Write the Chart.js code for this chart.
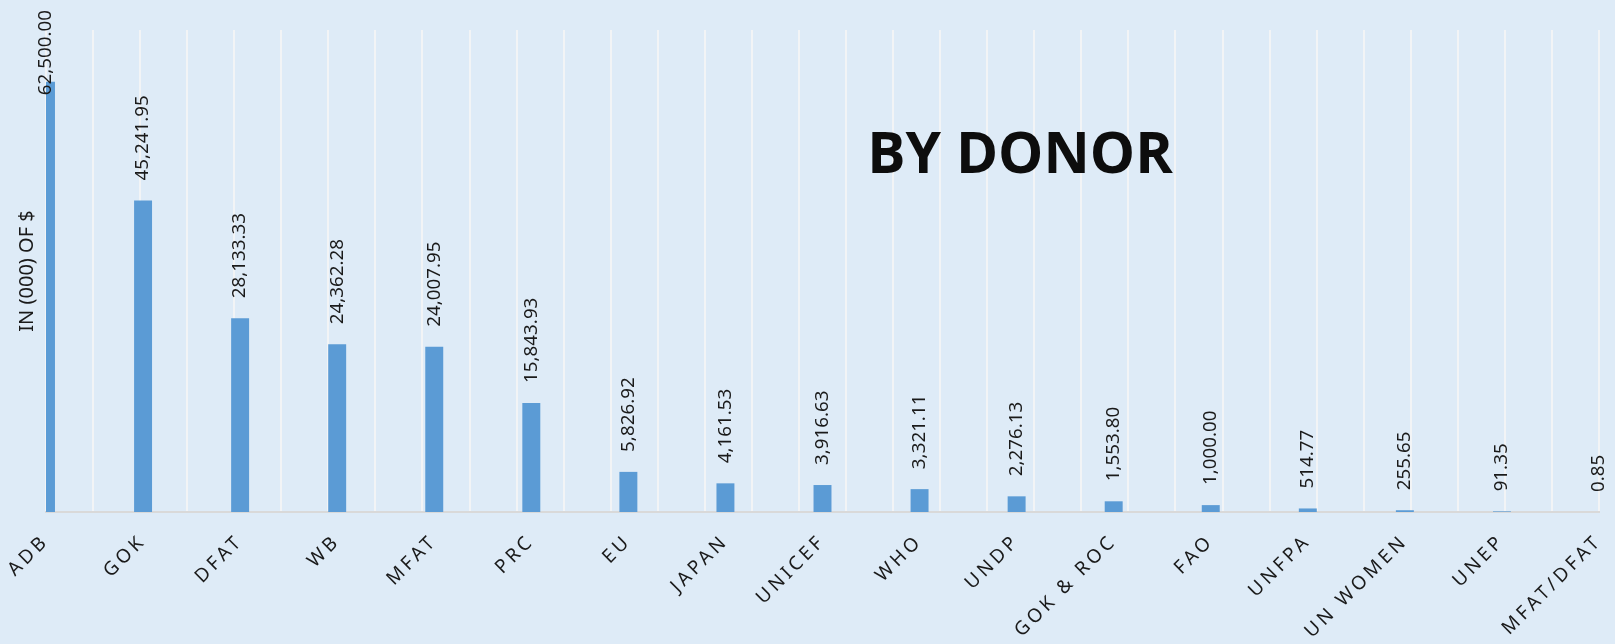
<!DOCTYPE html>
<html><head><meta charset="utf-8">
<script src="https://cdn.jsdelivr.net/npm/chart.js@4"></script>
<style>html,body{margin:0;padding:0;background:#DEEBF7;overflow:hidden;} canvas{display:block;}</style>
</head><body>
<canvas id="c" width="1615" height="644"></canvas>
<script>
const donors = ['ADB','GOK','DFAT','WB','MFAT','PRC','EU','JAPAN','UNICEF','WHO','UNDP','GOK & ROC','FAO','UNFPA','UN WOMEN','UNEP','MFAT/DFAT'];
const amounts = [62500.00,45241.95,28133.33,24362.28,24007.95,15843.93,5826.92,4161.53,3916.63,3321.11,2276.13,1553.80,1000.00,514.77,255.65,91.35,0.85];
const yAxisTitle = 'IN (000) OF $';
const chartTitle = 'BY DONOR';

const fmt = v => v.toLocaleString('en-US',{minimumFractionDigits:2,maximumFractionDigits:2});

const spacingPlugin = {
  id:'spacing',
  afterLayout(chart){
    const s = chart.scales.x;
    if (!s._wrapped){
      const orig = s.drawLabels.bind(s);
      s._computeLabelArea = function(){ return undefined; };
      s.drawLabels = function(area){
        const ctx = this.ctx; const prev = ctx.letterSpacing;
        ctx.letterSpacing = '3.6px'; orig(area); ctx.letterSpacing = prev;
      };
      s._wrapped = true;
    }
  }
};
const labelPlugin = {
  id:'valueLabels',
  afterDatasetsDraw(chart){
    const ctx = chart.ctx; const meta = chart.getDatasetMeta(0);
    ctx.save();
    ctx.font = '18.8px "Noto Sans"'; ctx.fillStyle = '#1a1a1a';
    ctx.textAlign = 'left'; ctx.textBaseline = 'middle';
    meta.data.forEach((bar,i)=>{
      const t = fmt(amounts[i]); const w = ctx.measureText(t).width;
      let b = bar.y - 20; if (b - w < 10) b = 10 + w;
      ctx.save(); ctx.translate(bar.x, b); ctx.rotate(-Math.PI/2); ctx.fillText(t,0,0); ctx.restore();
    });
    ctx.restore();
  },
  afterDraw(chart){
    const ctx = chart.ctx; ctx.save();
    ctx.font = 'bold 57px "Open Sans"'; ctx.fillStyle = '#0d0d0d';
    ctx.textAlign = 'center'; ctx.textBaseline = 'middle';
    ctx.fillText(chartTitle, 1020, 157);
    ctx.restore();
  }
};

new Chart(document.getElementById('c'), {
  type:'bar',
  data:{ labels: donors, datasets:[{ data: amounts, backgroundColor:'#5B9BD5', barPercentage:0.185, categoryPercentage:1 }]},
  options:{
    responsive:false, animation:false, devicePixelRatio:1,
    layout:{ padding:{ top:30, left:11, right:16, bottom:10 } },
    plugins:{ legend:{display:false}, tooltip:{enabled:false} },
    scales:{
      x:{ type:'category', offset:false, grid:{display:false, drawTicks:false},
          border:{display:true, color:'#D9D9D9', width:2},
          afterFit(s){ s.paddingLeft = 0; s.paddingRight = 0; s.height = 122; },
          ticks:{ autoSkip:false, minRotation:45, maxRotation:45, padding:18, color:'#1a1a1a', font:{family:'Noto Sans', size:19} } },
      x2:{ type:'linear', position:'bottom', min:0, max:16, ticks:{display:false, stepSize:0.5},
          grid:{ color:'#F2F4F6', lineWidth:2, drawTicks:false }, border:{display:false} },
      y:{ min:0, max:70000, ticks:{display:false}, grid:{display:false, drawTicks:false}, border:{display:false},
          title:{ display:true, text:yAxisTitle, color:'#1a1a1a', font:{family:'Noto Sans', size:20}, padding:{top:4,bottom:7} } }
    }
  },
  plugins:[spacingPlugin, labelPlugin]
});
</script>
</body></html>
